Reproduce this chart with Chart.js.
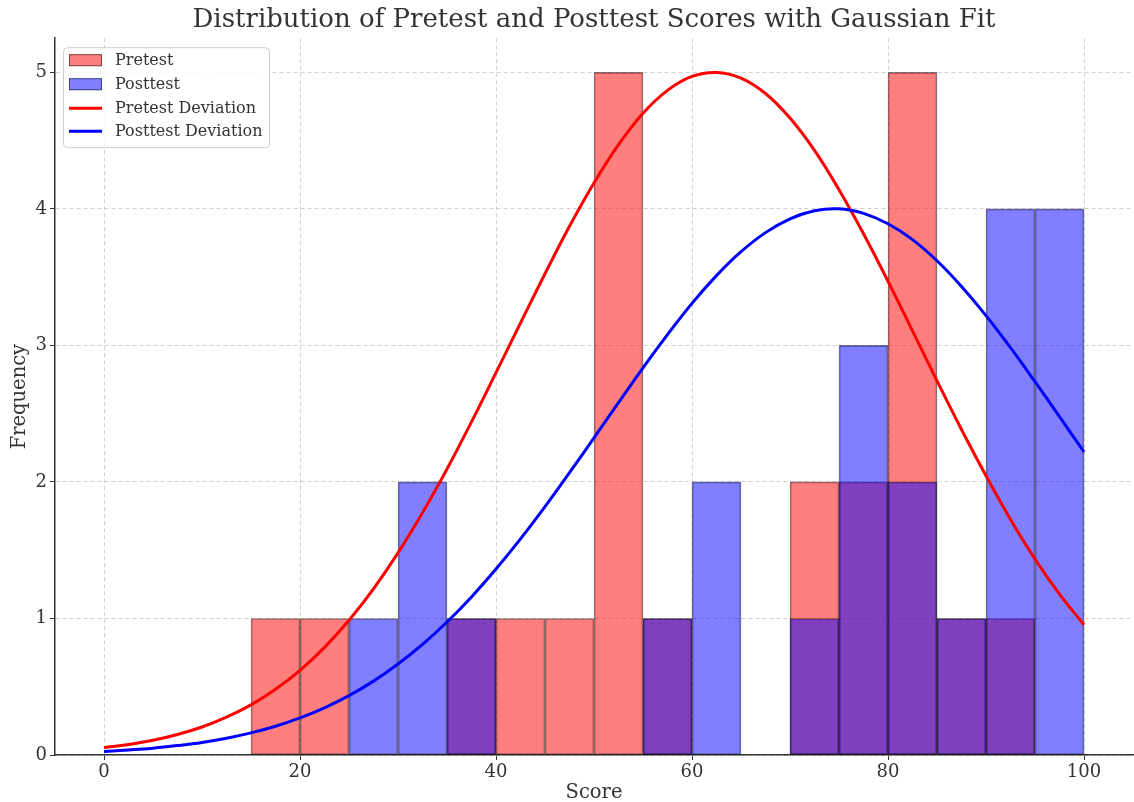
<!DOCTYPE html>
<html>
<head>
<meta charset="utf-8">
<title>Pretest and Posttest Scores</title>
<script src="https://cdn.jsdelivr.net/npm/chart.js@4.4.1/dist/chart.umd.min.js"></script>
<style>
  html, body { margin: 0; padding: 0; background: #ffffff; }
  #wrap { width: 1134px; height: 802px; }
</style>
</head>
<body>
<div id="wrap"><canvas id="chart" width="1134" height="802"></canvas></div>
<script>
// Histogram bins (width 5), given by their centres
const binCenters = [17.5, 22.5, 27.5, 32.5, 37.5, 42.5, 47.5, 52.5, 57.5, 62.5, 67.5, 72.5, 77.5, 82.5, 87.5, 92.5, 97.5];
const pretestCounts  = [1, 1, 0, 0, 1, 1, 1, 5, 1, 0, 0, 2, 2, 5, 1, 1, 0];
const posttestCounts = [0, 0, 1, 2, 1, 0, 0, 0, 1, 2, 0, 1, 3, 2, 1, 4, 4];

// Fitted curves, sampled every 2.5 points along the score axis
const curveScores = [0, 2.5, 5, 7.5, 10, 12.5, 15, 17.5, 20, 22.5, 25, 27.5, 30, 32.5, 35, 37.5, 40, 42.5, 45, 47.5,
                     50, 52.5, 55, 57.5, 60, 62.5, 65, 67.5, 70, 72.5, 75, 77.5, 80, 82.5, 85, 87.5, 90, 92.5, 95, 97.5, 100];
const pretestCurve = [0.054, 0.077, 0.108, 0.150, 0.205, 0.277, 0.367, 0.481, 0.620, 0.788, 0.987, 1.217, 1.480, 1.774, 2.095, 2.440, 2.800, 3.164, 3.525, 3.873,
                      4.190, 4.470, 4.700, 4.868, 4.970, 4.999, 4.958, 4.845, 4.665, 4.428, 4.140, 3.818, 3.470, 3.106, 2.740, 2.384, 2.045, 1.725, 1.435, 1.178, 0.953];
const posttestCurve = [0.026, 0.037, 0.050, 0.069, 0.092, 0.123, 0.162, 0.211, 0.272, 0.346, 0.435, 0.541, 0.666, 0.810, 0.974, 1.158, 1.362, 1.583, 1.819, 2.068,
                       2.323, 2.581, 2.836, 3.079, 3.308, 3.511, 3.686, 3.826, 3.927, 3.986, 4.000, 3.967, 3.891, 3.775, 3.620, 3.432, 3.218, 2.983, 2.734, 2.478, 2.220];

const xTicks = [0, 20, 40, 60, 80, 100];
const yTicks = [0, 1, 2, 3, 4, 5];

const SERIF = "'DejaVu Serif', 'Liberation Serif', serif";
const TEXT = '#333333';

const toPoints = (xs, ys) => xs.map((x, i) => ({ x: x, y: ys[i] }));

// Framed legend in the upper-left corner of the plot area
const boxedLegend = {
  id: 'boxedLegend',
  afterDraw(chart) {
    const ctx = chart.ctx;
    const area = chart.chartArea;
    const x0 = area.left + 8, y0 = area.top + 9, w = 206, h = 100;
    ctx.save();
    ctx.beginPath();
    ctx.roundRect(x0 + 0.5, y0 + 0.5, w, h, 4);
    ctx.fillStyle = 'rgba(255,255,255,0.8)';
    ctx.fill();
    ctx.strokeStyle = '#cccccc';
    ctx.lineWidth = 1;
    ctx.stroke();

    const rowY = [13, 37, 61, 84];
    const hx = x0 + 6, hw = 33;
    chart.data.datasets.forEach((ds, i) => {
      const cy = y0 + rowY[i];
      if (ds.type === 'bar') {
        ctx.fillStyle = ds.backgroundColor;
        ctx.fillRect(hx, cy - 6, hw, 12);
        ctx.strokeStyle = ds.borderColor;
        ctx.lineWidth = 1;
        ctx.strokeRect(hx + 0.5, cy - 5.5, hw - 1, 11);
      } else {
        ctx.beginPath();
        ctx.moveTo(hx, cy);
        ctx.lineTo(hx + hw, cy);
        ctx.strokeStyle = ds.borderColor;
        ctx.lineWidth = ds.borderWidth;
        ctx.stroke();
      }
      ctx.fillStyle = TEXT;
      ctx.font = "16px " + SERIF;
      ctx.textBaseline = 'middle';
      ctx.textAlign = 'left';
      ctx.fillText(ds.label, hx + 46, cy + 1);
    });
    ctx.restore();
  }
};

const gridOpts = { color: '#d0d0d0', lineWidth: 1, offset: false, tickColor: TEXT, tickLength: 5, tickWidth: 1, tickBorderDash: [] };
const borderOpts = { display: true, color: TEXT, width: 1.5, dash: [4, 3] };

new Chart(document.getElementById('chart'), {
  data: {
    datasets: [
      {
        type: 'bar',
        label: 'Pretest',
        data: toPoints(binCenters, pretestCounts),
        backgroundColor: 'rgba(255,0,0,0.5)',
        borderColor: 'rgba(0,0,0,0.5)',
        borderWidth: 1,
        borderSkipped: false,
        barPercentage: 1,
        categoryPercentage: 1,
        grouped: false,
        order: 4
      },
      {
        type: 'bar',
        label: 'Posttest',
        data: toPoints(binCenters, posttestCounts),
        backgroundColor: 'rgba(0,0,255,0.5)',
        borderColor: 'rgba(0,0,0,0.5)',
        borderWidth: 1,
        borderSkipped: false,
        barPercentage: 1,
        categoryPercentage: 1,
        grouped: false,
        order: 3
      },
      {
        type: 'line',
        label: 'Pretest Deviation',
        data: toPoints(curveScores, pretestCurve),
        borderColor: '#ff0000',
        borderWidth: 3,
        pointRadius: 0,
        fill: false,
        tension: 0.4,
        order: 2
      },
      {
        type: 'line',
        label: 'Posttest Deviation',
        data: toPoints(curveScores, posttestCurve),
        borderColor: '#0000ff',
        borderWidth: 3,
        pointRadius: 0,
        fill: false,
        tension: 0.4,
        order: 1
      }
    ]
  },
  options: {
    responsive: false,
    animation: false,
    devicePixelRatio: 1,
    layout: { padding: { left: 0, right: 1, top: 0, bottom: 0 } },
    plugins: {
      legend: { display: false },
      tooltip: { enabled: false },
      title: {
        display: true,
        text: 'Distribution of Pretest and Posttest Scores with Gaussian Fit',
        fullSize: false,
        color: TEXT,
        font: { family: SERIF, size: 26, weight: 'normal' },
        padding: { top: 5, bottom: 2 }
      }
    },
    scales: {
      x: {
        type: 'linear',
        offset: false,
        min: -5,
        max: 105,
        afterBuildTicks: s => { s.ticks = xTicks.map(v => ({ value: v })); },
        afterFit: s => { s.height = 47; },
        ticks: { color: TEXT, font: { family: SERIF, size: 18 }, padding: 2, maxRotation: 0 },
        grid: gridOpts,
        border: borderOpts,
        title: { display: true, text: 'Score', color: TEXT, font: { family: SERIF, size: 19.5 }, padding: { top: 0, bottom: -3 } }
      },
      y: {
        type: 'linear',
        offset: false,
        min: 0,
        max: 5.25,
        afterBuildTicks: s => { s.ticks = yTicks.map(v => ({ value: v })); },
        afterFit: s => { s.width = 55; },
        ticks: { color: TEXT, font: { family: SERIF, size: 18 }, padding: 3 },
        grid: gridOpts,
        border: borderOpts,
        title: { display: true, text: 'Frequency', color: TEXT, font: { family: SERIF, size: 19.5 }, padding: { top: 8, bottom: 0 } }
      }
    }
  },
  plugins: [boxedLegend]
});
</script>
</body>
</html>
